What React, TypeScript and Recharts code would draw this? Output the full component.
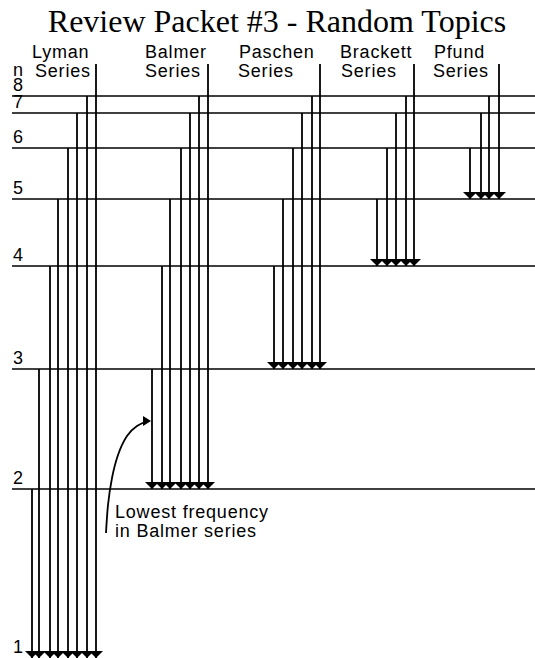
import { ComposedChart, XAxis, YAxis, ReferenceLine, Scatter, Line } from 'recharts'

// height of each level above n = 1 (schematic, not to scale)
const levelNames = ['1', '2', '3', '4', '5', '6', '7', '8']
const levelHeights = [0, 169, 289, 392, 459, 510, 545, 562]
const topHeight = 594 // n = infinity, where the longest line of every series starts

const seriesNames = ['Lyman', 'Balmer', 'Paschen', 'Brackett', 'Pfund']
const seriesLowerLevel = [1, 2, 3, 4, 5]
// horizontal place of each line in a series, from the nearest level up to infinity
const seriesColumns = [
  [32, 39, 50, 58, 68, 77, 87, 96],
  [152, 162, 170, 181, 190, 199, 208],
  [274, 283, 293, 302, 312, 320],
  [377, 387, 396, 406, 414],
  [470, 481, 489, 499],
]
const headerX = [32, 145, 239, 340, 434]
const headerX2 = [35, 145, 238, 341, 433]

// the hand drawn arrow pointing at the 3 -> 2 line
const pointerCurve = [
  { x: 106, y: 125 },
  { x: 108, y: 153 },
  { x: 112, y: 180 },
  { x: 118, y: 203 },
  { x: 127, y: 222 },
  { x: 137, y: 232 },
  { x: 145, y: 236 },
]
const pointerTip = [{ x: 151, y: 237 }]

const W = 535
const H = 658
const sans = '"Liberation Sans", Arial, Helvetica, sans-serif'

const transitions = seriesColumns.flatMap((cols, i) => {
  const lower = seriesLowerLevel[i]
  return cols.map((x, j) => {
    const upper = lower + 1 + j
    const from = upper <= 8 ? levelHeights[upper - 1] : topHeight
    return { x, from, to: levelHeights[lower - 1] }
  })
})
const tips = transitions.map(t => ({ x: t.x, y: t.to }))
const levelLabels = levelNames.map((n, i) => ({ x: 13, y: levelHeights[i], n }))

const DownHead = (props: any) => {
  const { cx, cy } = props
  return <polygon points={`${cx - 7},${cy - 7} ${cx + 7},${cy - 7} ${cx},${cy}`} fill="#000" />
}

const RightHead = (props: any) => {
  const { cx, cy } = props
  return <polygon points={`${cx - 8},${cy - 5} ${cx},${cy} ${cx - 8},${cy + 5}`} fill="#000" />
}

const LevelLabel = (props: any) => {
  const { cx, cy, payload } = props
  return (
    <text x={cx} y={cy - 5} fontFamily={sans} fontSize={18} fill="#000">
      {payload.n}
    </text>
  )
}

export default function App() {
  return (
    <div style={{ position: 'absolute', left: 0, top: 0, width: W, height: H, background: '#fff' }}>
      <ComposedChart width={W} height={H} margin={{ top: 0, right: 0, bottom: 0, left: 0 }}>
        <XAxis type="number" dataKey="x" domain={[0, W]} hide allowDataOverflow />
        <YAxis type="number" dataKey="y" domain={[0, H]} hide allowDataOverflow />
        {levelHeights.map((h, i) => (
          <ReferenceLine
            key={'lvl' + i}
            segment={[{ x: 12, y: h }, { x: W, y: h }]}
            stroke={i === 0 ? 'none' : '#000'}
            strokeWidth={1.6}
          />
        ))}
        {transitions.map((t, i) => (
          <ReferenceLine
            key={'tr' + i}
            segment={[{ x: t.x, y: t.from }, { x: t.x, y: t.to }]}
            stroke="#000"
            strokeWidth={1.8}
          />
        ))}
        <Scatter data={tips} shape={DownHead} isAnimationActive={false} />
        <Scatter data={levelLabels} shape={LevelLabel} isAnimationActive={false} />
        <Line
          data={pointerCurve}
          dataKey="y"
          type="natural"
          stroke="#000"
          strokeWidth={1.8}
          dot={false}
          isAnimationActive={false}
        />
        <Scatter data={pointerTip} shape={RightHead} isAnimationActive={false} />
      </ComposedChart>
      <svg width={W} height={H} style={{ position: 'absolute', left: 0, top: 0, pointerEvents: 'none' }}>
        <text x={277} y={32} textAnchor="middle" fontFamily='"Liberation Serif", "Times New Roman", serif' fontSize={32}>
          Review Packet #3 - Random Topics
        </text>
        <g fontFamily={sans} fontSize={18} letterSpacing={0.8}>
          {seriesNames.map((s, i) => (
            <g key={s}>
              <text x={headerX[i]} y={58}>{s}</text>
              <text x={headerX2[i]} y={77}>Series</text>
            </g>
          ))}
          <text x={13} y={76}>n</text>
          <text x={115} y={518}>Lowest frequency</text>
          <text x={115} y={537}>in Balmer series</text>
        </g>
      </svg>
    </div>
  )
}
